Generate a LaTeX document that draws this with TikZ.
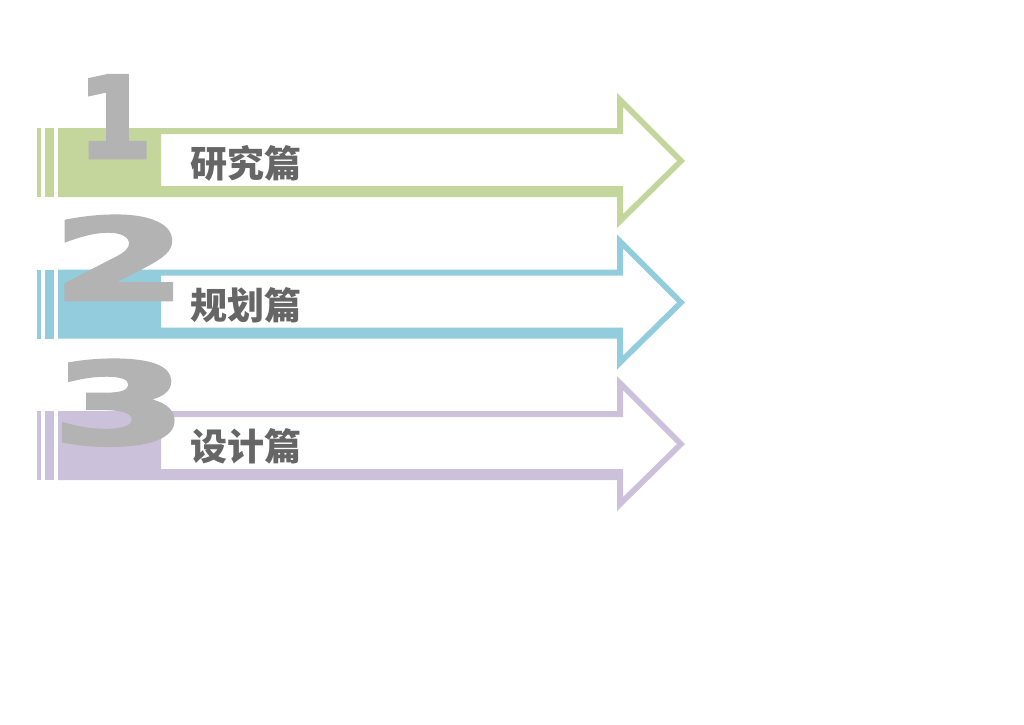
\documentclass[tikz,border=0pt]{standalone}
\usepackage{fontspec}
\newfontfamily\cjk{Noto Sans CJK SC}
\newfontfamily\digitfont[FakeBold=3.5]{DejaVu Sans Bold}
\definecolor{agreen}{HTML}{C4D69B}
\definecolor{ablue}{HTML}{93CDDD}
\definecolor{apurple}{HTML}{CCC1DA}
\definecolor{digitgrey}{HTML}{B3B3B3}
\definecolor{labelgrey}{HTML}{666666}
\tikzset{
  digitstyle/.style={inner sep=0pt, anchor=base, text=digitgrey, font=\digitfont\fontsize{112}{112}\selectfont},
  labelstyle/.style={inner sep=0pt, anchor=center, text=labelgrey, font=\cjk\bfseries\fontsize{37}{40}\selectfont}
}
\newcommand{\bandarrow}[2]{%
  \fill[#2, even odd rule]
    (58,#1-33) -- (617,#1-33) -- (617,#1-68) -- (685,#1) -- (617,#1+67) -- (617,#1+36) -- (58,#1+36) -- cycle
    (161,#1-27) -- (623,#1-27) -- (623,#1-54) -- (677,#1) -- (623,#1+53) -- (623,#1+25) -- (161,#1+25) -- cycle;
  \fill[#2] (37,#1-33) rectangle (41,#1+36);
  \fill[#2] (45,#1-33) rectangle (54,#1+36);
}
\begin{document}
\begin{tikzpicture}[x=1pt,y=-1pt]
\useasboundingbox[fill=white] (0,0) rectangle (1024,724);
\bandarrow{161}{agreen}
\bandarrow{302.5}{ablue}
\bandarrow{444}{apurple}
\node[digitstyle, xscale=0.95] (d1) at (115,157.5) {1};
\node[digitstyle, xscale=1.72] (d2) at (119.5,299.5) {2};
\node[digitstyle, xscale=1.72] (d3) at (119.5,443.5) {3};
\node[labelstyle] (l1) at (246,163) {研究篇};
\node[labelstyle] (l2) at (246,305) {规划篇};
\node[labelstyle] (l3) at (246,446) {设计篇};
\end{tikzpicture}
\end{document}
